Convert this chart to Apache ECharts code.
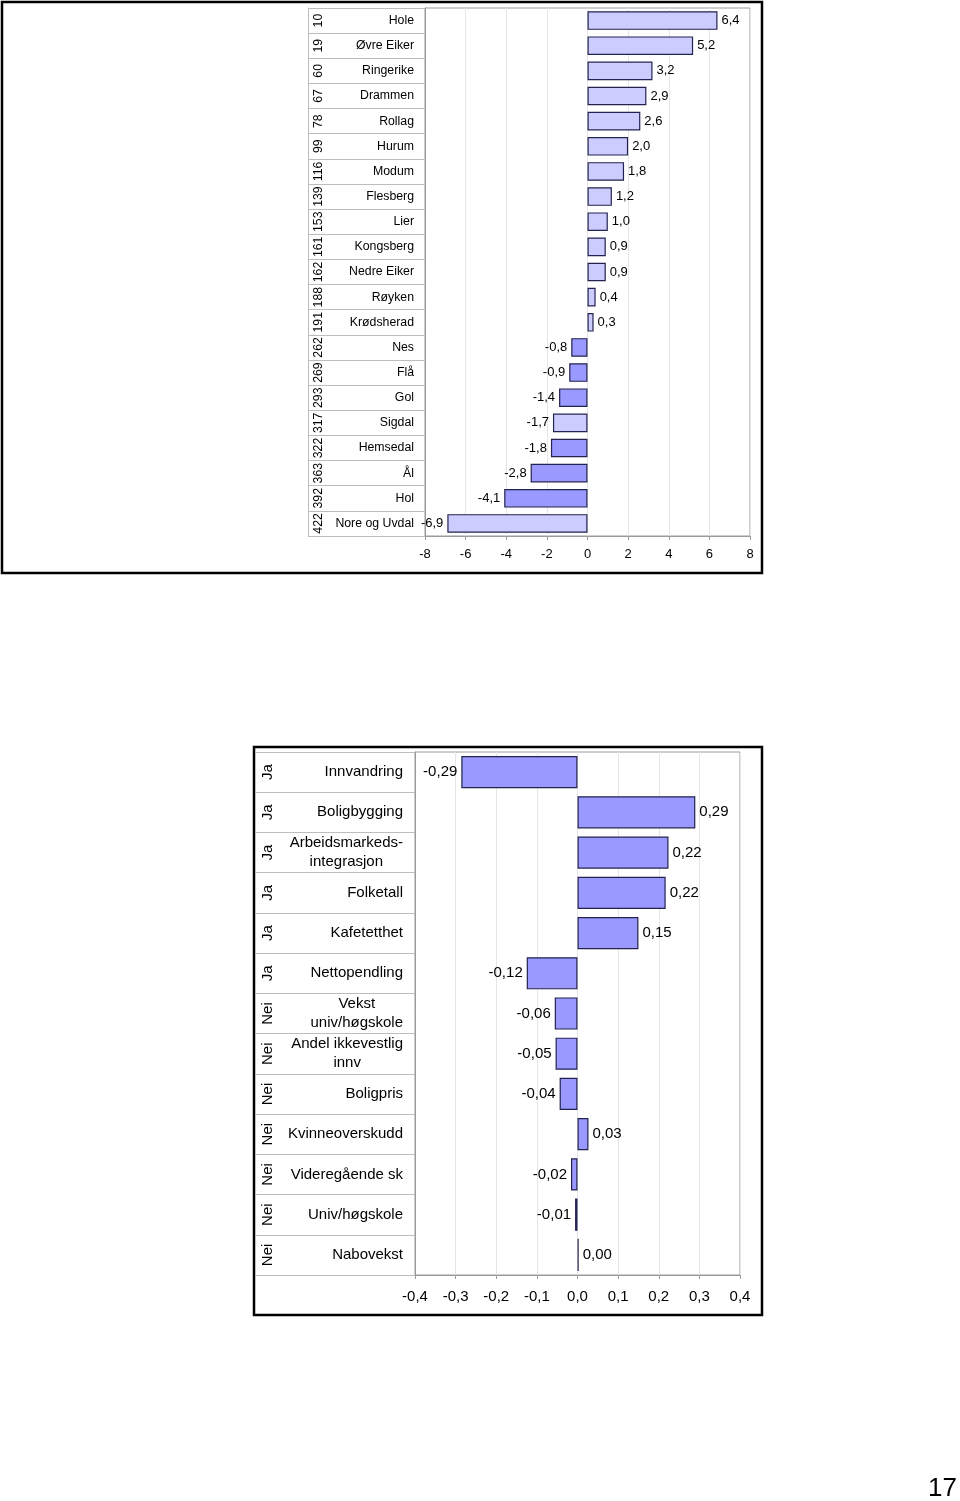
<!DOCTYPE html>
<html>
<head>
<meta charset="utf-8">
<script src="https://cdn.jsdelivr.net/npm/echarts@6/dist/echarts.min.js"></script>
<style>
html,body{margin:0;padding:0;background:#fff;}
#c{width:960px;height:1501px;}
</style>
</head>
<body>
<div id="c"></div>
<script>
// ---- Top chart data ----
var kommuner = ['Hole','Øvre Eiker','Ringerike','Drammen','Rollag','Hurum','Modum','Flesberg','Lier','Kongsberg','Nedre Eiker','Røyken','Krødsherad','Nes','Flå','Gol','Sigdal','Hemsedal','Ål','Hol','Nore og Uvdal'];
var rangering = ['10','19','60','67','78','99','116','139','153','161','162','188','191','262','269','293','317','322','363','392','422'];
var endring = [6.4,5.2,3.2,2.9,2.6,2.0,1.8,1.2,1.0,0.9,0.9,0.4,0.3,-0.8,-0.9,-1.4,-1.7,-1.8,-2.8,-4.1,-6.9];
var markert = ['Nes','Flå','Gol','Hemsedal','Ål','Hol'];

// ---- Bottom chart data ----
var faktorer = ['Innvandring','Boligbygging','Arbeidsmarkeds-\nintegrasjon','Folketall','Kafetetthet','Nettopendling','Vekst\nuniv/høgskole','Andel ikkevestlig\ninnv','Boligpris','Kvinneoverskudd','Videregående sk','Univ/høgskole','Nabovekst'];
var signifikant = ['Ja','Ja','Ja','Ja','Ja','Ja','Nei','Nei','Nei','Nei','Nei','Nei','Nei'];
var effekt = [-0.286,0.290,0.224,0.217,0.150,-0.125,-0.056,-0.054,-0.044,0.027,-0.016,-0.006,0.003];

var FONT = '"Liberation Sans", Arial, Helvetica, sans-serif';
var LIGHT = '#ccccff', DARK = '#9999ff', EDGE = '#23234f', GRID = '#e6e6e6', AX = '#9a9a9a', SEP = '#bdbdbd';
function comma(v, d){ return (Math.round(v*Math.pow(10,d))/Math.pow(10,d)).toFixed(d).replace('.', ','); }

var topData = endring.map(function(v, i){
  return {
    value: v,
    itemStyle: { color: markert.indexOf(kommuner[i]) >= 0 ? DARK : LIGHT },
    label: { position: v >= 0 ? 'right' : 'left' }
  };
});
var bottomData = effekt.map(function(v){
  return { value: v, label: { position: v >= 0 ? 'right' : 'left' } };
});

var chart = echarts.init(document.getElementById('c'), null, {renderer:'canvas'});
chart.setOption({
  animation: false,
  textStyle: { fontFamily: FONT },
  graphic: [
    { type:'rect', shape:{x:2, y:2, width:760, height:571}, style:{fill:'none', stroke:'#000', lineWidth:2.5}, z:-1 },
    { type:'rect', shape:{x:254, y:747, width:508, height:568}, style:{fill:'none', stroke:'#000', lineWidth:2.5}, z:-1 },
    { type:'text', left:928, top:1476, style:{text:'17', fontSize:26, fontFamily:FONT, fill:'#000'} }
  ],
  grid: [
    { left:425, top:8, width:325, height:528, show:true, borderColor:AX, borderWidth:1, containLabel:false },
    { left:415, top:752, width:325, height:523, show:true, borderColor:AX, borderWidth:1, containLabel:false }
  ],
  xAxis: [
    { type:'value', gridIndex:0, min:-8, max:8, interval:2,
      axisLine:{show:true, onZero:false, lineStyle:{color:AX}}, axisTick:{show:true, length:4, lineStyle:{color:AX}},
      splitLine:{show:true, lineStyle:{color:GRID}},
      axisLabel:{fontSize:13, color:'#000', margin:12, formatter:function(v){return String(v);}} },
    { type:'value', gridIndex:1, min:-0.4, max:0.4, interval:0.1,
      axisLine:{show:true, onZero:false, lineStyle:{color:AX}}, axisTick:{show:true, length:4, lineStyle:{color:AX}},
      splitLine:{show:true, lineStyle:{color:GRID}},
      axisLabel:{fontSize:15, color:'#000', margin:14, formatter:function(v){return comma(v,1);}} }
  ],
  yAxis: [
    { type:'category', gridIndex:0, data:kommuner, inverse:true, position:'left',
      axisLine:{show:true, onZero:false, lineStyle:{color:AX}},
      axisTick:{show:true, length:117, interval:0, lineStyle:{color:SEP}},
      axisLabel:{fontSize:12.3, color:'#000', margin:11, interval:0} },
    { type:'category', gridIndex:0, data:rangering, inverse:true, position:'left', offset:117,
      axisLine:{show:true, onZero:false, lineStyle:{color:SEP}}, axisTick:{show:false},
      axisLabel:{inside:true, rotate:90, fontSize:12.3, color:'#000', margin:5, interval:0} },
    { type:'category', gridIndex:1, data:faktorer, inverse:true, position:'left',
      axisLine:{show:true, onZero:false, lineStyle:{color:AX}},
      axisTick:{show:true, length:160, interval:0, lineStyle:{color:SEP}},
      axisLabel:{fontSize:15, color:'#000', margin:12, interval:0, lineHeight:19,
        formatter:function(v){ return v.split('\n').map(function(s){return '{c|'+s+'}';}).join('\n'); },
        rich:{ c:{ align:'center', fontSize:15, lineHeight:19, fontFamily:FONT, color:'#000' } } } },
    { type:'category', gridIndex:1, data:signifikant, inverse:true, position:'left', offset:160,
      axisLine:{show:false, onZero:false}, axisTick:{show:false},
      axisLabel:{inside:true, rotate:90, fontSize:15, color:'#000', margin:5, interval:0} }
  ],
  series: [
    { type:'bar', xAxisIndex:0, yAxisIndex:0, data:topData, barCategoryGap:'26%',
      itemStyle:{borderColor:EDGE, borderWidth:1.2},
      label:{show:true, fontSize:13, color:'#000', distance:4, formatter:function(p){return comma(p.value,1);}} },
    { type:'bar', xAxisIndex:1, yAxisIndex:2, data:bottomData, barCategoryGap:'20%',
      itemStyle:{color:DARK, borderColor:EDGE, borderWidth:1.2},
      label:{show:true, fontSize:15, color:'#000', distance:4, formatter:function(p){return comma(p.value,2);}} }
  ]
});
</script>
</body>
</html>
